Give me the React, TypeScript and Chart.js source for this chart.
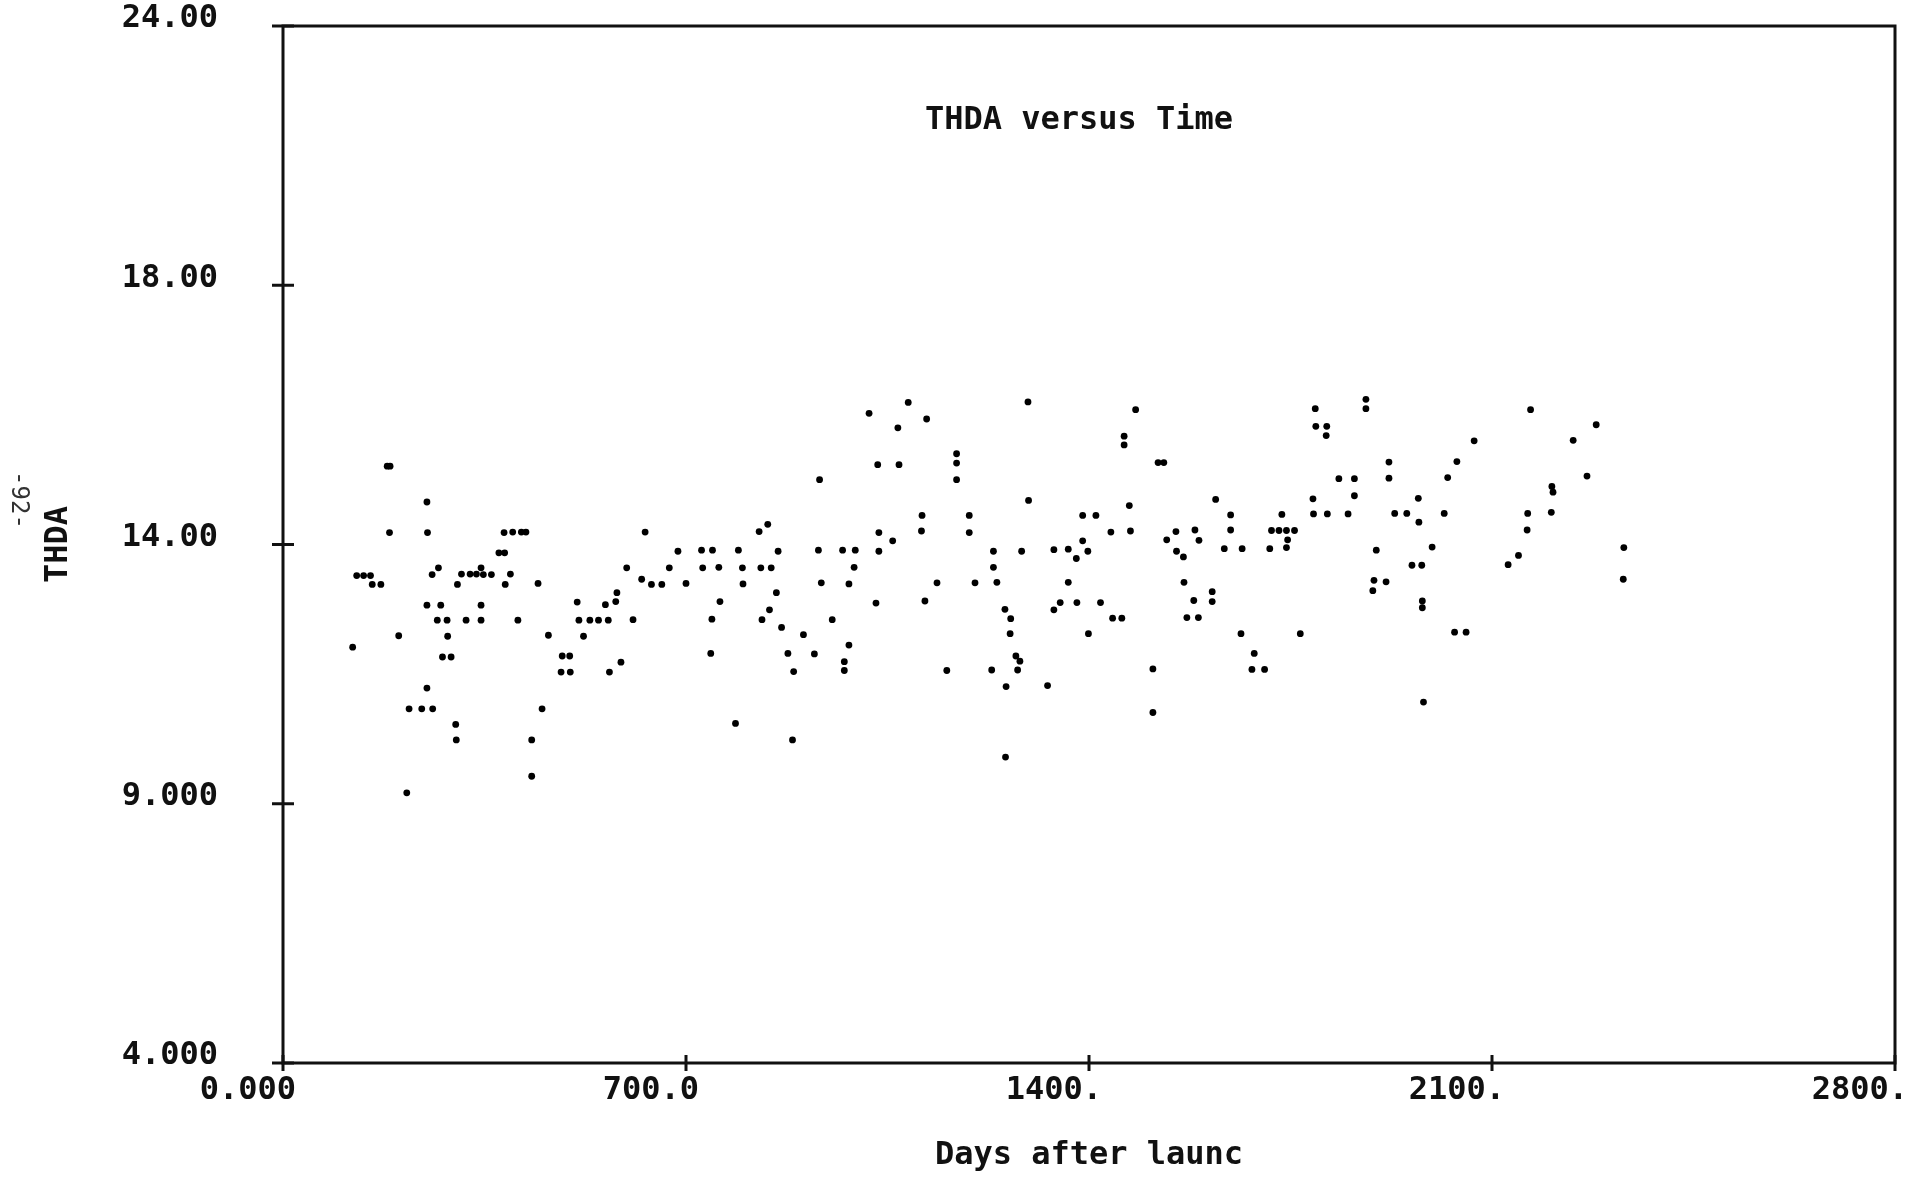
import React, { useEffect, useRef } from 'react';
import { Chart, registerables } from 'chart.js';

Chart.register(...registerables);

const days = [
  121, 128, 140, 152, 155, 170, 181, 186, 185, 201, 215, 219, 241, 250, 251, 250, 250, 259, 260, 268,
  270, 274, 277, 285, 286, 292, 300, 301, 303, 310, 318, 325, 336, 344, 344, 344, 348, 362, 375, 384,
  385, 386, 395, 399, 408, 414, 422, 432, 432, 443, 450, 461, 483, 485, 498, 499, 511, 514, 522, 533,
  548, 560, 565, 567, 578, 580, 587, 597, 608, 623, 629, 640, 658, 671, 686, 700, 727, 729, 743, 745,
  746, 757, 759, 786, 791, 798, 799, 827, 830, 832, 842, 845, 848, 857, 860, 866, 877, 885, 887, 904,
  923, 930, 932, 935, 954, 972, 975, 975, 983, 983, 992, 994, 1018, 1030, 1033, 1035, 1035, 1059, 1068, 1070,
  1086, 1109, 1110, 1115, 1118, 1136, 1153, 1170, 1170, 1170, 1192, 1192, 1202, 1231, 1234, 1234, 1240, 1254, 1255, 1256,
  1263, 1264, 1273, 1276, 1280, 1283, 1294, 1295, 1328, 1339, 1339, 1350, 1364, 1364, 1378, 1379, 1389, 1389, 1398, 1399,
  1412, 1420, 1438, 1441, 1457, 1461, 1461, 1470, 1472, 1481, 1511, 1511, 1520, 1530, 1535, 1551, 1552, 1564, 1565, 1570,
  1582, 1584, 1590, 1591, 1614, 1614, 1620, 1635, 1646, 1646, 1664, 1666, 1683, 1687, 1705, 1714, 1717, 1730, 1735, 1743,
  1743, 1745, 1757, 1767, 1789, 1790, 1793, 1794, 1812, 1813, 1814, 1834, 1850, 1861, 1861, 1881, 1881, 1893, 1895, 1899,
  1916, 1921, 1921, 1931, 1952, 1961, 1972, 1973, 1978, 1979, 1979, 1981, 1996, 2017, 2023, 2035, 2039, 2055, 2069, 2128,
  2146, 2161, 2162, 2167, 2203, 2204, 2206, 2241, 2265, 2281, 2328, 2329,
];

const thda = [
  12.02, 13.40, 13.40, 13.40, 13.23, 13.23, 15.51, 15.51, 14.23, 12.24, 9.21, 10.83, 10.83, 14.82, 14.23, 12.83, 11.23, 13.42, 10.83, 12.54,
  13.55, 12.83, 11.83, 12.54, 12.23, 11.83, 10.53, 10.23, 13.23, 13.43, 12.54, 13.43, 13.43, 13.55, 12.83, 12.54, 13.42, 13.42, 13.84, 14.23,
  13.84, 13.23, 13.43, 14.24, 12.54, 14.24, 14.24, 10.23, 9.53, 13.25, 10.83, 12.25, 11.54, 11.85, 11.85, 11.54, 12.89, 12.54, 12.23, 12.54,
  12.54, 12.84, 12.54, 11.54, 12.90, 13.07, 11.73, 13.55, 12.55, 13.33, 14.24, 13.23, 13.23, 13.55, 13.87, 13.25, 13.89, 13.55, 11.90, 12.56,
  13.89, 13.56, 12.90, 10.55, 13.89, 13.55, 13.24, 14.25, 13.55, 12.55, 14.39, 12.74, 13.55, 13.07, 13.87, 12.40, 11.90, 10.23, 11.55, 12.26,
  11.89, 13.89, 15.25, 13.26, 12.55, 13.89, 11.74, 11.57, 13.24, 12.06, 13.56, 13.89, 16.53, 12.87, 15.54, 14.23, 13.87, 14.07, 16.25, 15.54,
  16.74, 14.26, 14.56, 12.91, 16.42, 13.26, 11.57, 15.75, 15.57, 15.25, 14.56, 14.23, 13.26, 11.58, 13.87, 13.56, 13.27, 12.75, 9.90, 11.26,
  12.28, 12.57, 11.85, 11.58, 11.75, 13.87, 16.75, 14.85, 11.28, 13.90, 12.74, 12.88, 13.91, 13.27, 13.73, 12.88, 14.07, 14.56, 13.87, 12.28,
  14.56, 12.88, 14.24, 12.58, 12.58, 16.09, 15.92, 14.75, 14.26, 16.60, 11.60, 10.76, 15.58, 15.58, 14.09, 14.25, 13.87, 13.76, 13.27, 12.59,
  12.92, 14.28, 12.59, 14.08, 13.09, 12.90, 14.87, 13.92, 14.57, 14.28, 12.28, 13.92, 11.59, 11.90, 11.59, 13.92, 14.27, 14.27, 14.58, 14.27,
  13.94, 14.09, 14.27, 12.28, 14.88, 14.59, 16.62, 16.28, 16.10, 16.28, 14.59, 15.27, 14.59, 15.27, 14.94, 16.80, 16.62, 13.11, 13.31, 13.89,
  13.28, 15.59, 15.28, 14.60, 14.60, 13.60, 14.89, 14.43, 13.60, 12.91, 12.78, 10.96, 13.95, 14.60, 15.29, 12.31, 15.60, 12.31, 16.00, 13.61,
  13.79, 14.28, 14.60, 16.60, 14.62, 15.12, 15.01, 16.01, 15.32, 16.31, 13.33, 13.94,
];

const xTickValues = [0, 700, 1400, 2100, 2800];
const xTickLabels = ['0.000', '700.0', '1400.', '2100.', '2800.'];
const yTickValues = [4, 9, 14, 19, 24];
const yTickLabels = ['4.000', '9.000', '14.00', '18.00', '24.00'];

const chartTitle = 'THDA versus Time';
const xTitle = 'Days after launc';
const yTitle = 'THDA';
const pageNumber = '-92-';

const FONT = "'DejaVu Sans Mono', 'Liberation Mono', monospace";
const INK = '#111';

const framePlugin = {
  id: 'framePlugin',
  afterDraw(chart: any) {
    const { ctx, chartArea: a, scales } = chart;
    ctx.save();
    ctx.strokeStyle = INK;
    ctx.lineWidth = 3;
    ctx.strokeRect(a.left, a.top, a.right - a.left, a.bottom - a.top);
    scales.y.ticks.forEach((t: any) => {
      const py = scales.y.getPixelForValue(t.value);
      ctx.beginPath();
      ctx.moveTo(a.left - 11, py);
      ctx.lineTo(a.left + 11, py);
      ctx.stroke();
    });
    scales.x.ticks.forEach((t: any) => {
      const px = scales.x.getPixelForValue(t.value);
      ctx.beginPath();
      ctx.moveTo(px, a.bottom - 8);
      ctx.lineTo(px, a.bottom + 8);
      ctx.stroke();
    });
    ctx.fillStyle = INK;
    ctx.font = `bold 32px ${FONT}`;
    ctx.textAlign = 'center';
    ctx.textBaseline = 'middle';
    ctx.fillText(chartTitle, (a.left + a.right) / 2 - 10, a.top + 95);
    ctx.restore();
  },
};

export default function App() {
  const canvasRef = useRef<HTMLCanvasElement | null>(null);

  useEffect(() => {
    const canvas = canvasRef.current;
    if (!canvas) return;
    const points = days.map((d, i) => ({ x: d, y: thda[i] }));
    const tickFont = { family: FONT, size: 32, weight: 'bold' as const };
    const chart = new Chart(canvas, {
      type: 'scatter',
      data: {
        datasets: [
          {
            data: points,
            pointRadius: 3.4,
            pointHoverRadius: 3.4,
            pointBackgroundColor: '#000',
            pointBorderWidth: 0,
            borderColor: '#000',
          },
        ],
      },
      options: {
        animation: false,
        responsive: false,
        devicePixelRatio: 1,
        layout: { padding: { top: 26, right: 32, left: 0, bottom: 0 } },
        plugins: {
          legend: { display: false },
          tooltip: { enabled: false },
          title: { display: false },
        },
        scales: {
          x: {
            type: 'linear',
            min: 0,
            max: 2800,
            afterBuildTicks: (s: any) => {
              s.ticks = xTickValues.map((v) => ({ value: v }));
            },
            afterFit: (s: any) => {
              s.height = 114;
            },
            grid: {
              display: true,
              drawOnChartArea: false,
              drawTicks: true,
              tickLength: 6,
              tickColor: 'rgba(0,0,0,0)',
            },
            border: { display: false },
            ticks: {
              callback: (v: any) => {
                const i = xTickValues.indexOf(Number(v));
                return i >= 0 ? xTickLabels[i] : '';
              },
              font: tickFont,
              color: INK,
              align: 'end',
              labelOffset: 13,
              padding: 2,
              maxRotation: 0,
              autoSkip: false,
            },
            title: {
              display: true,
              text: xTitle,
              font: tickFont,
              color: INK,
              padding: { top: 0, bottom: 2 },
            },
          },
          y: {
            type: 'linear',
            min: 4,
            max: 24,
            afterBuildTicks: (s: any) => {
              s.ticks = yTickValues.map((v) => ({ value: v }));
            },
            afterFit: (s: any) => {
              s.width = 283;
            },
            grid: {
              display: true,
              drawOnChartArea: false,
              drawTicks: true,
              tickLength: 62,
              tickColor: 'rgba(0,0,0,0)',
            },
            border: { display: false },
            ticks: {
              callback: (v: any) => {
                const i = yTickValues.indexOf(Number(v));
                return i >= 0 ? yTickLabels[i] : '';
              },
              font: tickFont,
              color: INK,
              padding: 3,
              labelOffset: -7,
              autoSkip: false,
            },
            title: {
              display: true,
              text: yTitle,
              font: tickFont,
              color: INK,
              padding: { top: 39, bottom: 0 },
            },
          },
        },
      },
      plugins: [framePlugin],
    });
    return () => chart.destroy();
  }, []);

  return (
    <div style={{ position: 'fixed', left: 0, top: 0, width: 1927, height: 1177, background: '#fff' }}>
      <canvas ref={canvasRef} width={1927} height={1177} style={{ display: 'block', width: 1927, height: 1177 }} />
      <div
        style={{
          position: 'absolute',
          left: -10,
          top: 487,
          width: 60,
          height: 26,
          lineHeight: '26px',
          textAlign: 'center',
          fontFamily: FONT,
          fontSize: 24,
          color: '#333',
          transform: 'rotate(90deg)',
        }}
      >
        {pageNumber}
      </div>
    </div>
  );
}
